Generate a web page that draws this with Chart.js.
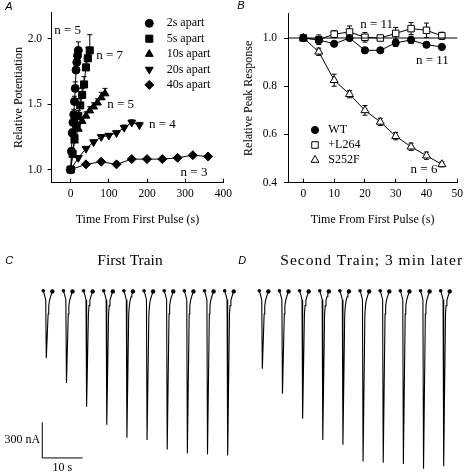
<!DOCTYPE html>
<html lang="en">
<head>
<meta charset="UTF-8">
<title>Train potentiation</title>
<script src="https://cdn.jsdelivr.net/npm/chart.js"></script>
<style>
  body { margin: 0; background: #fff; }
  #wrap { position: relative; width: 471px; height: 474px; overflow: hidden; }
  #wrap canvas { position: absolute; }
</style>
</head>
<body>
<div id="wrap">
  <canvas id="chartA" width="240" height="240" style="left:0;top:0"></canvas>
  <canvas id="chartB" width="236" height="240" style="left:235px;top:0"></canvas>
  <canvas id="chartC" width="240" height="229" style="left:0;top:245px"></canvas>
  <canvas id="chartD" width="236" height="229" style="left:235px;top:245px"></canvas>
</div>
<script>
// ---- panel A: relative potentiation, one series per pulse interval ----
const timesA2s  = [0, 2, 4, 6, 8, 10, 12, 14, 16, 18, 20];
const potA2s    = [1.00, 1.14, 1.28, 1.36, 1.42, 1.52, 1.62, 1.76, 1.82, 1.87, 1.91];
const errA2s    = [0, 0.02, 0.03, 0.03, 0.04, 0.04, 0.05, 0.05, 0.05, 0.06, 0.065];
const timesA5s  = [0, 5, 10, 15, 20, 25, 30, 35, 40, 45, 50];
const potA5s    = [1.00, 1.12, 1.24, 1.33, 1.41, 1.49, 1.57, 1.65, 1.78, 1.85, 1.91];
const errA5s    = [0, 0.03, 0.03, 0.04, 0.04, 0.05, 0.05, 0.06, 0.07, 0.08, 0.12];
const timesA10s = [0, 10, 20, 30, 40, 50, 60, 70, 80, 90];
const potA10s   = [1.00, 1.22, 1.31, 1.37, 1.41, 1.45, 1.48, 1.51, 1.55, 1.58];
const errA10s   = [0, 0.02, 0.02, 0.02, 0.03, 0.03, 0.03, 0.03, 0.04, 0.04];
const timesA20s = [0, 20, 40, 60, 80, 100, 120, 140, 160, 180];
const potA20s   = [1.00, 1.09, 1.16, 1.21, 1.25, 1.26, 1.28, 1.32, 1.36, 1.34];
const errA20s   = [0, 0.01, 0.01, 0.015, 0.015, 0.015, 0.015, 0.02, 0.02, 0.02];
const timesA40s = [0, 40, 80, 120, 160, 200, 240, 280, 320, 360];
const potA40s   = [1.00, 1.04, 1.06, 1.04, 1.08, 1.08, 1.08, 1.09, 1.11, 1.10];
const errA40s   = [0, 0.005, 0.01, 0.01, 0.01, 0.01, 0.01, 0.01, 0.01, 0.01];
const ticksAx = [0, 100, 200, 300, 400];
const ticksAy = [1.0, 1.5, 2.0];

// ---- panel B: relative peak response ----
const timesB    = [0, 5, 10, 15, 20, 25, 30, 35, 40, 45];
const respWT    = [1.000, 0.992, 0.976, 1.000, 0.949, 0.949, 0.980, 0.992, 0.972, 0.963];
const errWT     = [0, 0.01, 0.01, 0.01, 0.012, 0.01, 0.015, 0.015, 0.01, 0.01];
const respL264  = [1.000, 0.993, 1.016, 1.025, 1.003, 1.000, 1.019, 1.039, 1.032, 1.009];
const errL264   = [0, 0.02, 0.015, 0.025, 0.02, 0.01, 0.025, 0.025, 0.03, 0.015];
const respS252F = [1.000, 0.943, 0.825, 0.767, 0.700, 0.652, 0.593, 0.549, 0.512, 0.476];
const errS252F  = [0, 0.015, 0.025, 0.015, 0.02, 0.015, 0.015, 0.015, 0.015, 0.01];
const unityB    = 1.0;
const ticksBx = [0, 10, 20, 30, 40, 50];
const ticksBy = [0.4, 0.6, 0.8, 1.0];

// ---- panels C, D: current traces, pulses 5 s apart ----
const pulseOnsetsC = [0, 5, 10, 15, 20, 25, 30, 35, 40, 45];
const peaksC       = [550, 760, 960, 1110, 1220, 1240, 1320, 1350, 1360, 1370];
const pulseOnsetsD = [0, 5, 10, 15, 20, 25, 30, 35, 40, 45];
const peaksD       = [640, 850, 1060, 1240, 1280, 1420, 1430, 1440, 1480, 1460];
// one pulse: s after stimulus, nA (null = the peak)
const pulseShapeT = [0, 0.3, 0.6, 0.75, 1.2, 1.35, 1.55, 1.8, 2.0, 2.25];
const pulseShapeI = [15, -20, -60, null, -180, -110, -65, -35, -15, 10];

const black = '#000';
const serif = "'Liberation Serif', 'Times New Roman', serif";
Chart.defaults.font.family = serif;
Chart.defaults.font.size = 12;
Chart.defaults.color = black;

function pts(xs, ys) { return xs.map((x, i) => ({x: x, y: ys[i]})); }

function buildTrace(onsets, peaks) {
  const out = [];
  const last = pulseShapeT.length - 1;
  onsets.forEach((t0, i) => {
    pulseShapeT.forEach((dt, j) => {
      const v = pulseShapeI[j] === null ? -peaks[i] : pulseShapeI[j];
      out.push({x: t0 + dt, y: v, art: j === 0 ? 1 : (j === last ? 2 : 0)});
    });
    out.push({x: t0 + pulseShapeT[last] + 0.1, y: null});
  });
  return out;
}

// error bars, drawn under the markers
const errorBars = {
  id: 'errorBars',
  beforeDatasetsDraw(chart, args, opts) {
    const ctx = chart.ctx, ys = chart.scales.y;
    ctx.save();
    ctx.strokeStyle = black;
    ctx.lineWidth = 1;
    chart.data.datasets.forEach((ds, di) => {
      if (!ds.errors) return;
      const meta = chart.getDatasetMeta(di);
      meta.data.forEach((el, i) => {
        const e = ds.errors[i];
        if (!e) return;
        const v = ds.data[i].y;
        const top = ys.getPixelForValue(v + e);
        const bot = opts.upOnly ? el.y : ys.getPixelForValue(v - e);
        ctx.beginPath();
        ctx.moveTo(el.x, top); ctx.lineTo(el.x, bot);
        ctx.moveTo(el.x - opts.cap, top); ctx.lineTo(el.x + opts.cap, top);
        if (!opts.upOnly) { ctx.moveTo(el.x - opts.cap, bot); ctx.lineTo(el.x + opts.cap, bot); }
        ctx.stroke();
      });
    });
    ctx.restore();
  }
};

// marker legend
const markerLegend = {
  id: 'markerLegend',
  afterDraw(chart, args, opts) {
    if (!opts.show) return;
    const ctx = chart.ctx;
    let row = 0;
    ctx.save();
    chart.data.datasets.forEach(ds => {
      if (!ds.label) return;
      const y = opts.y + row * opts.step;
      ctx.fillStyle = ds.pointBackgroundColor;
      ctx.strokeStyle = black;
      ctx.lineWidth = 1;
      Chart.helpers.drawPoint(ctx, {pointStyle: ds.pointStyle, radius: ds.pointRadius,
        rotation: ds.pointRotation || 0, borderWidth: 1}, opts.x, y);
      ctx.fillStyle = black;
      ctx.font = opts.font;
      ctx.textAlign = 'left';
      ctx.textBaseline = 'middle';
      ctx.fillText(ds.label, opts.textX, y);
      row++;
    });
    ctx.restore();
  }
};

// free text: n labels (data coords), titles and panel letters (pixels)
const notes = {
  id: 'notes',
  afterDraw(chart, args, opts) {
    const ctx = chart.ctx;
    ctx.save();
    (opts.items || []).forEach(it => {
      let x = it.x, y = it.y;
      if (it.data) { x = chart.scales.x.getPixelForValue(it.x); y = chart.scales.y.getPixelForValue(it.y); }
      ctx.font = it.font || '13px ' + serif;
      ctx.letterSpacing = it.spacing || '0px';
      ctx.fillStyle = black;
      ctx.textAlign = it.align || 'center';
      ctx.textBaseline = 'middle';
      ctx.fillText(it.text, x, y);
    });
    ctx.restore();
  }
};

// calibration bar
const scaleBar = {
  id: 'scaleBar',
  afterDraw(chart, args, opts) {
    if (!opts.show) return;
    const ctx = chart.ctx, xs = chart.scales.x, ys = chart.scales.y;
    const x0 = xs.getPixelForValue(opts.x), y0 = ys.getPixelForValue(opts.y);
    const x1 = xs.getPixelForValue(opts.x + opts.dx), y1 = ys.getPixelForValue(opts.y + opts.dy);
    ctx.save();
    ctx.strokeStyle = black;
    ctx.lineWidth = 1;
    ctx.beginPath();
    ctx.moveTo(x0, y1); ctx.lineTo(x0, y0); ctx.lineTo(x1, y0);
    ctx.stroke();
    ctx.fillStyle = black;
    ctx.font = '12px ' + serif;
    ctx.textBaseline = 'middle';
    ctx.textAlign = 'right';
    ctx.fillText(opts.yLabel, x0 - 2, (y0 + y1) / 2);
    ctx.textAlign = 'center';
    ctx.fillText(opts.xLabel, (x0 + x1) / 2, y0 + 10);
    ctx.restore();
  }
};

Chart.register(errorBars, markerLegend, notes, scaleBar);

function lineSet(label, data, errs, style, radius, fill, rot) {
  return {
    label: label, data: data, errors: errs,
    borderColor: black, borderWidth: 1, tension: 0, fill: false,
    pointStyle: style, pointRadius: radius, pointRotation: rot || 0,
    pointBackgroundColor: fill, pointBorderColor: black, pointBorderWidth: 1,
    clip: false
  };
}

function axis(min, max, ticks, size, isY, title, titlePad, fmt) {
  return {
    type: 'linear', min: min, max: max,
    afterFit: s => { if (isY) s.width = size; else s.height = size; },
    afterBuildTicks: s => { s.ticks = ticks.map(v => ({value: v})); },
    grid: { drawOnChartArea: false, color: black, tickLength: isY ? 4 : -4 },
    border: { color: black, width: 1 },
    ticks: { color: black, font: {size: 11.5}, padding: isY ? titlePad.tick : 8,
             callback: v => fmt(v) },
    title: { display: true, text: title, color: black, font: {size: 12},
             padding: isY ? {top: titlePad.title, bottom: 0} : {top: 0, bottom: titlePad.title} }
  };
}

// ---- A ----
new Chart(document.getElementById('chartA'), {
  type: 'line',
  data: { datasets: [
    lineSet('2s apart', pts(timesA2s, potA2s), errA2s, 'circle', 4, black),
    lineSet('5s apart', pts(timesA5s, potA5s), errA5s, 'rect', 5, black),
    lineSet('10s apart', pts(timesA10s, potA10s), errA10s, 'triangle', 4.5, black),
    lineSet('20s apart', pts(timesA20s, potA20s), errA20s, 'triangle', 4.5, black, 180),
    lineSet('40s apart', pts(timesA40s, potA40s), errA40s, 'rectRot', 4.5, black)
  ]},
  options: {
    responsive: false, animation: false,
    layout: { autoPadding: false, padding: {top: 9.4, right: 16.5, left: 0, bottom: 0} },
    plugins: {
      legend: {display: false}, tooltip: {enabled: false},
      errorBars: {upOnly: true, cap: 2.5},
      markerLegend: {show: true, x: 149.3, y: 23.3, step: 15.4, textX: 166.7, font: '12px ' + serif},
      notes: { items: [
        {text: 'n = 5', x: -8, y: 2.06, data: true},
        {text: 'n = 7', x: 102, y: 1.87, data: true},
        {text: 'n = 5', x: 131, y: 1.495, data: true},
        {text: 'n = 4', x: 240, y: 1.345, data: true},
        {text: 'n = 3', x: 323, y: 0.98, data: true},
        {text: 'A', x: 9, y: 7, font: 'italic 11px "Liberation Sans", sans-serif'}
      ]}
    },
    scales: {
      x: axis(-50, 400, ticksAx, 57.3, false, 'Time From First Pulse (s)', {title: 12.8}, v => String(v)),
      y: axis(0.9, 2.2, ticksAy, 51.6, true, 'Relative Potentiation', {title: 11.8, tick: 5.5}, v => v.toFixed(1))
    }
  }
});

// ---- B ----
new Chart(document.getElementById('chartB'), {
  type: 'line',
  data: { datasets: [
    { data: [{x: -5, y: unityB}, {x: 50, y: unityB}], borderColor: black, borderWidth: 1, pointRadius: 0, clip: false },
    lineSet('WT', pts(timesB, respWT), errWT, 'circle', 3.6, black),
    lineSet('+L264', pts(timesB, respL264), errL264, 'rect', 4.6, '#fff'),
    lineSet('S252F', pts(timesB, respS252F), errS252F, 'triangle', 4.6, '#fff')
  ]},
  options: {
    responsive: false, animation: false,
    layout: { autoPadding: false, padding: {top: 7, right: 10.5, left: 0, bottom: 0} },
    plugins: {
      legend: {display: false}, tooltip: {enabled: false},
      errorBars: {upOnly: false, cap: 2.5},
      markerLegend: {show: true, x: 80, y: 130, step: 15, textX: 93.3, font: '12px ' + serif},
      notes: { items: [
        {text: 'n = 11', x: 23.8, y: 1.055, data: true},
        {text: 'n = 11', x: 41.9, y: 0.908, data: true},
        {text: 'n = 6', x: 39.2, y: 0.455, data: true},
        {text: 'B', x: 6, y: 6, font: 'italic 11px "Liberation Sans", sans-serif'}
      ]}
    },
    scales: {
      x: axis(-5, 50, ticksBx, 57.3, false, 'Time From First Pulse (s)', {title: 12.8}, v => String(v)),
      y: axis(0.4, 1.1, ticksBy, 53, true, 'Relative Peak Response', {title: 6.8, tick: 7}, v => v.toFixed(1))
    }
  }
});

// ---- C, D ----
function traceChart(id, onsets, peaks, xRange, extra) {
  return new Chart(document.getElementById(id), {
    type: 'line',
    data: { datasets: [{
      data: buildTrace(onsets, peaks),
      borderColor: black, borderWidth: 1.1, tension: 0, spanGaps: false, clip: false,
      pointRadius: c => (c.raw && c.raw.art) ? (c.raw.art === 2 ? 2.2 : 1.8) : 0,
      pointBackgroundColor: black, pointBorderColor: black, pointBorderWidth: 0
    }]},
    options: {
      responsive: false, animation: false,
      layout: { autoPadding: false, padding: 0 },
      plugins: Object.assign({ legend: {display: false}, tooltip: {enabled: false} }, extra),
      scales: {
        x: { type: 'linear', display: false, min: xRange[0], max: xRange[1] },
        y: { type: 'linear', display: false, min: -1525, max: 400 }
      }
    }
  });
}

traceChart('chartC', pulseOnsetsC, peaksC, [-10.74, 48.81], {
  scaleBar: {show: true, x: -0.25, y: -1390, dx: 10, dy: 300, xLabel: '10 s', yLabel: '300 nA'},
  notes: { items: [
    {text: 'First Train', x: 130, y: 15.7, font: '15.5px ' + serif},
    {text: 'C', x: 9.3, y: 15.7, font: 'italic 11px "Liberation Sans", sans-serif'}
  ]}
});

traceChart('chartD', pulseOnsetsD, peaksD, [-6.03, 52.53], {
  notes: { items: [
    {text: 'Second Train; 3 min later', x: 136.7, y: 15.7, font: '15.5px ' + serif, spacing: '1px'},
    {text: 'D', x: 7.3, y: 16, font: 'italic 11px "Liberation Sans", sans-serif'}
  ]}
});
</script>
</body>
</html>
